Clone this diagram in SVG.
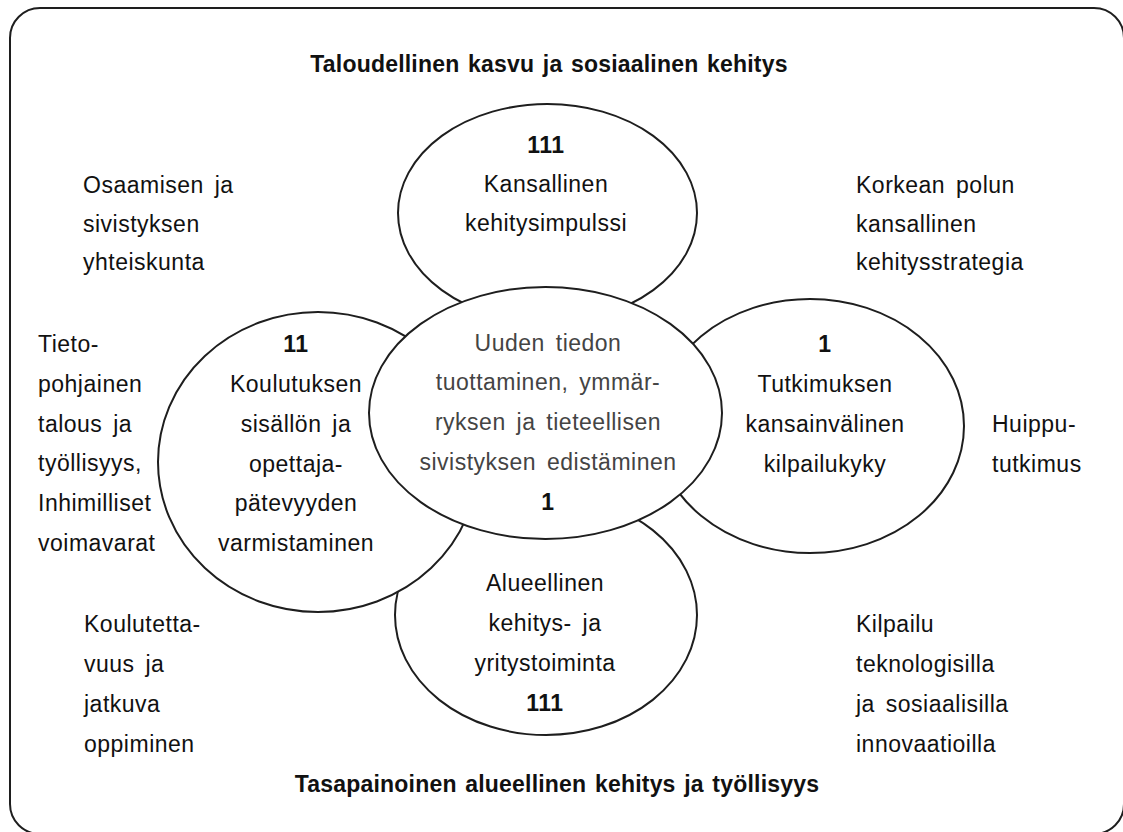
<svg xmlns="http://www.w3.org/2000/svg" width="1123" height="832" viewBox="0 0 1123 832">
<style>
.e{fill:#fff;stroke:#1e1e1e;stroke-width:2}
text{font-family:"Liberation Sans",Arial,sans-serif;font-size:23px;fill:#111;letter-spacing:0.5px;word-spacing:4px}
.c{text-anchor:middle}
.b{font-weight:bold}
.t{letter-spacing:0.2px;word-spacing:2px}
.g{fill:#444}
</style>
<rect x="10" y="8" width="1114" height="826" rx="30" ry="30" fill="#fff" stroke="#1e1e1e" stroke-width="2"/>
<g id="titles">
<text class="c b t" x="549" y="72">Taloudellinen kasvu ja sosiaalinen kehitys</text>
<text class="c b t" x="557" y="792">Tasapainoinen alueellinen kehitys ja työllisyys</text>
</g>
<g id="connectors"></g>
<g id="node-bottom">
<ellipse class="e" cx="546" cy="615" rx="151" ry="120"/>
<text class="c" x="545" y="591">Alueellinen</text>
<text class="c" x="545" y="631">kehitys- ja</text>
<text class="c" x="545" y="671">yritystoiminta</text>
<text class="c b" x="545" y="711">111</text>
</g>
<g id="node-left">
<ellipse class="e" cx="318" cy="462" rx="160" ry="150"/>
<text class="c b" x="296" y="352">11</text>
<text class="c" x="296" y="392">Koulutuksen</text>
<text class="c" x="296" y="432">sisällön ja</text>
<text class="c" x="296" y="472">opettaja-</text>
<text class="c" x="296" y="511">pätevyyden</text>
<text class="c" x="296" y="551">varmistaminen</text>
</g>
<g id="node-top">
<ellipse class="e" cx="547.5" cy="213" rx="149.5" ry="109"/>
<text class="c b" x="546" y="153">111</text>
<text class="c" x="546" y="192">Kansallinen</text>
<text class="c" x="546" y="231">kehitysimpulssi</text>
</g>
<g id="node-right">
<ellipse class="e" cx="810" cy="426" rx="154" ry="127"/>
<text class="c b" x="825" y="352">1</text>
<text class="c" x="825" y="392">Tutkimuksen</text>
<text class="c" x="825" y="432">kansainvälinen</text>
<text class="c" x="825" y="472">kilpailukyky</text>
</g>
<g id="node-center">
<ellipse class="e" cx="545.5" cy="413" rx="176.5" ry="126"/>
<text class="c g" x="548" y="351">Uuden tiedon</text>
<text class="c g" x="548" y="390">tuottaminen, ymmär-</text>
<text class="c g" x="548" y="430">ryksen ja tieteellisen</text>
<text class="c g" x="548" y="470">sivistyksen edistäminen</text>
<text class="c b" x="548" y="510">1</text>
</g>
<g id="label-top-left">
<text x="83" y="193">Osaamisen ja</text>
<text x="83" y="232">sivistyksen</text>
<text x="83" y="270">yhteiskunta</text>
</g>
<g id="label-top-right">
<text x="856" y="193">Korkean polun</text>
<text x="856" y="232">kansallinen</text>
<text x="856" y="270">kehitysstrategia</text>
</g>
<g id="label-left">
<text x="38" y="352">Tieto-</text>
<text x="38" y="392">pohjainen</text>
<text x="38" y="432">talous ja</text>
<text x="38" y="471">työllisyys,</text>
<text x="38" y="511">Inhimilliset</text>
<text x="38" y="551">voimavarat</text>
</g>
<g id="label-right">
<text x="992" y="432">Huippu-</text>
<text x="992" y="472">tutkimus</text>
</g>
<g id="label-bottom-left">
<text x="84" y="632">Koulutetta-</text>
<text x="84" y="672">vuus ja</text>
<text x="84" y="712">jatkuva</text>
<text x="84" y="752">oppiminen</text>
</g>
<g id="label-bottom-right">
<text x="856" y="632">Kilpailu</text>
<text x="856" y="672">teknologisilla</text>
<text x="856" y="712">ja sosiaalisilla</text>
<text x="856" y="752">innovaatioilla</text>
</g>
</svg>
